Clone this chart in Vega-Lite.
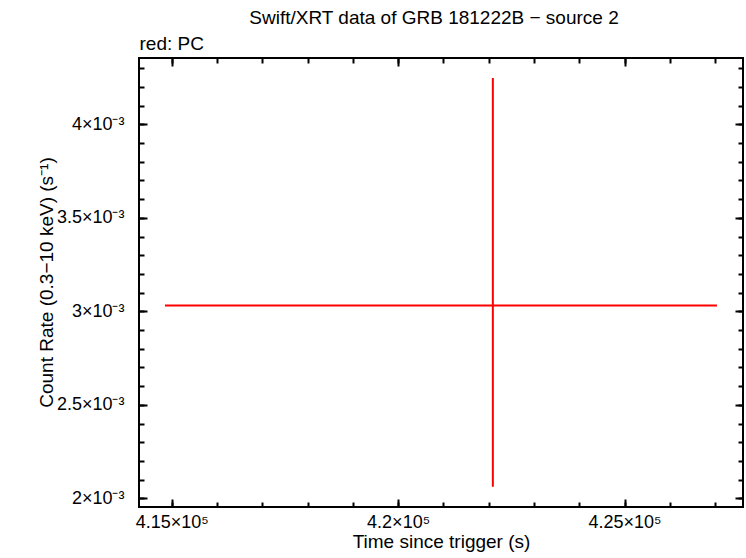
{
  "$schema": "https://vega.github.io/schema/vega-lite/v6.json",
  "width": 604,
  "height": 449,
  "autosize": "none",
  "padding": {"left": 139, "top": 58, "right": 3, "bottom": 51},
  "background": "white",
  "title": {
    "text": "Swift/XRT data of GRB 181222B − source 2",
    "anchor": "middle",
    "font": "Liberation Sans",
    "fontSize": 19,
    "fontWeight": "normal",
    "color": "black",
    "dx": -7,
    "offset": 6
  },
  "data": {
    "values": [
      {"t": 422092, "tlo": 414852, "thi": 427041, "rate": 0.003032, "rlo": 0.002062, "rhi": 0.004248}
    ]
  },
  "resolve": {"axis": {"x": "independent", "y": "independent"}},
  "layer": [
    {
      "mark": {"type": "rule", "color": "red", "strokeWidth": 2},
      "encoding": {
        "x": {
          "field": "tlo",
          "type": "quantitative",
          "scale": {"domain": [414278, 427616], "nice": false, "zero": false},
          "axis": {
            "orient": "bottom",
            "values": [415000, 420000, 425000],
            "labelExpr": "format(datum.value / 100000, '~g') + '×10⁵'",
            "tickSize": -8,
            "labelPadding": 14,
            "title": "Time since trigger (s)",
            "titlePadding": 1
          }
        },
        "x2": {"field": "thi"},
        "y": {
          "field": "rate",
          "type": "quantitative",
          "scale": {"domain": [0.001954, 0.004355], "nice": false, "zero": false},
          "axis": {
            "orient": "left",
            "values": [0.002, 0.0025, 0.003, 0.0035, 0.004],
            "labelExpr": "format(datum.value * 1000, '~g') + '×10⁻³'",
            "tickSize": -8,
            "labelPadding": 23,
            "title": "Count Rate (0.3−10 keV) (s⁻¹)",
            "titleX": -93,
            "titleY": 224,
            "titleBaseline": "middle"
          }
        }
      }
    },
    {
      "mark": {"type": "rule", "color": "red", "strokeWidth": 2},
      "encoding": {
        "x": {
          "field": "t",
          "type": "quantitative",
          "axis": {
            "orient": "bottom",
            "values": [415000, 416000, 417000, 418000, 419000, 420000, 421000, 422000, 423000, 424000, 425000, 426000, 427000],
            "tickSize": -5,
            "labels": false,
            "title": null
          }
        },
        "y": {
          "field": "rlo",
          "type": "quantitative",
          "axis": {
            "orient": "left",
            "values": [0.002, 0.0021, 0.0022, 0.0023, 0.0024, 0.0025, 0.0026, 0.0027, 0.0028, 0.0029, 0.003, 0.0031, 0.0032, 0.0033, 0.0034, 0.0035, 0.0036, 0.0037, 0.0038, 0.0039, 0.004, 0.0041, 0.0042, 0.0043],
            "tickSize": -5,
            "labels": false,
            "title": null
          }
        },
        "y2": {"field": "rhi"}
      }
    },
    {
      "mark": {"type": "point", "opacity": 0},
      "encoding": {
        "x": {
          "field": "t",
          "type": "quantitative",
          "axis": {
            "orient": "top",
            "values": [415000, 420000, 425000],
            "tickSize": -8,
            "labels": false,
            "title": "red: PC",
            "titleAnchor": "start",
            "titleAlign": "left",
            "titlePadding": 4
          }
        },
        "y": {
          "field": "rate",
          "type": "quantitative",
          "axis": {
            "orient": "right",
            "values": [0.002, 0.0025, 0.003, 0.0035, 0.004],
            "tickSize": -8,
            "labels": false,
            "title": null
          }
        }
      }
    },
    {
      "mark": {"type": "point", "opacity": 0},
      "encoding": {
        "x": {
          "field": "t",
          "type": "quantitative",
          "axis": {
            "orient": "top",
            "values": [415000, 416000, 417000, 418000, 419000, 420000, 421000, 422000, 423000, 424000, 425000, 426000, 427000],
            "tickSize": -5,
            "labels": false,
            "title": null
          }
        },
        "y": {
          "field": "rate",
          "type": "quantitative",
          "axis": {
            "orient": "right",
            "values": [0.002, 0.0021, 0.0022, 0.0023, 0.0024, 0.0025, 0.0026, 0.0027, 0.0028, 0.0029, 0.003, 0.0031, 0.0032, 0.0033, 0.0034, 0.0035, 0.0036, 0.0037, 0.0038, 0.0039, 0.004, 0.0041, 0.0042, 0.0043],
            "tickSize": -5,
            "labels": false,
            "title": null
          }
        }
      }
    }
  ],
  "config": {
    "view": {"stroke": "black", "strokeWidth": 2},
    "axis": {
      "domain": false,
      "grid": false,
      "ticks": true,
      "tickColor": "black",
      "tickWidth": 2,
      "labelFont": "Liberation Sans",
      "labelFontSize": 18,
      "labelColor": "black",
      "titleFont": "Liberation Sans",
      "titleFontSize": 19,
      "titleFontWeight": "normal",
      "titleColor": "black"
    }
  }
}
